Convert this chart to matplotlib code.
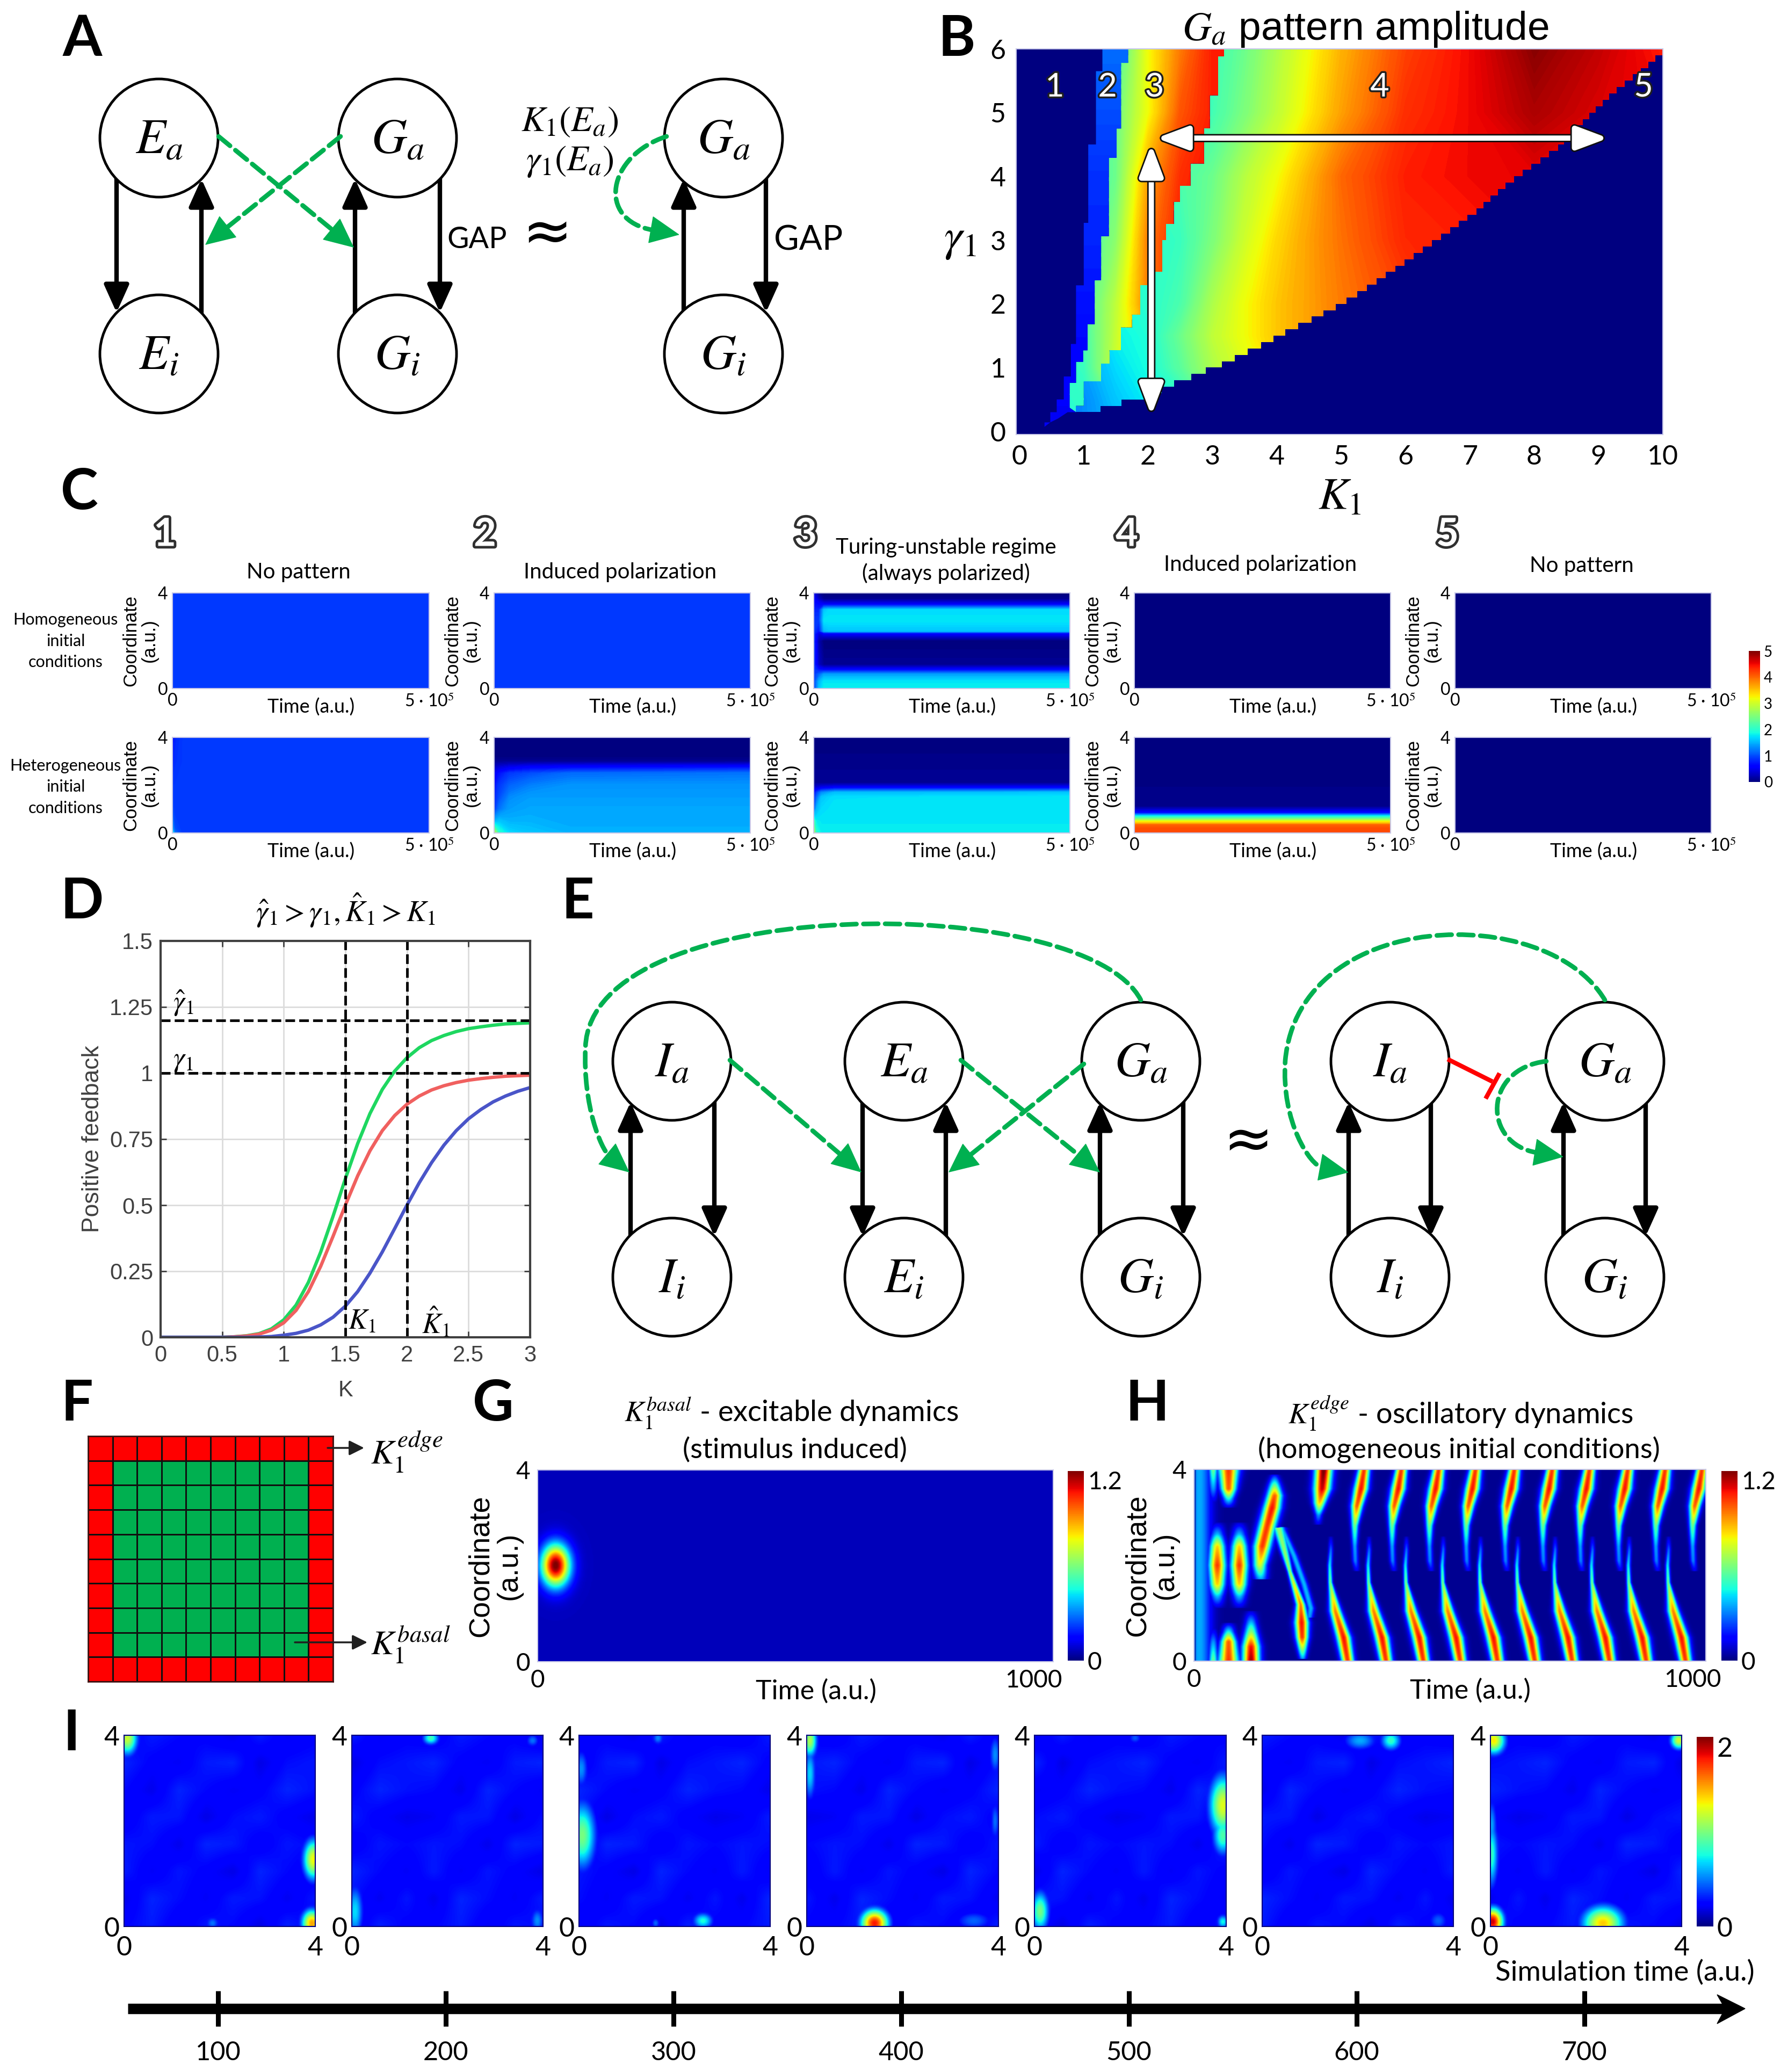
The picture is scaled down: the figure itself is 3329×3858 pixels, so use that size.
import numpy as np
import matplotlib
matplotlib.use("Agg")
import matplotlib.pyplot as plt
import matplotlib.patheffects as pe
from matplotlib.cm import ScalarMappable
from matplotlib.colors import ListedColormap, Normalize
from matplotlib.patches import Circle, FancyArrowPatch, Polygon
from matplotlib.path import Path
from matplotlib.transforms import ScaledTranslation

plt.rcParams['font.family'] = ['Lato', 'DejaVu Sans']
plt.rcParams['mathtext.fontset'] = 'stix'

W, H = 3330, 3858
SANS = ['Liberation Sans', 'DejaVu Sans']
GREEN = '#00b050'

# panel B, region boundaries (K per gamma band, top to bottom)
L12_K = [1.29, 1.19, 1.07, 1.0, .88, .8, .69, .58, .48, .39]
L12_G = [6, 5.65, 4.5, 3.27, 2.29, 1.37, .86, .5, .3, .14, .07]
R23_K = [1.69, 1.58, 1.51, 1.39, 1.27, 1.17, 1.06, .99, .88, .78]
R23_G = [6, 5.78, 4.75, 4.29, 3.06, 2.37, 1.68, 1.27, 1.09, .76, .37]
R34_K = [3.18, 3.09, 2.96, 2.87, 2.66, 2.5, 2.4, 2.28, 2.22, 2.0, 1.88, 1.75, 1.58, 1.4, 1.27, 1.0, .88]
R34_G = [6, 5.88, 5.27, 4.75, 4.2, 3.85, 3.6, 3.25, 3.0, 2.5, 2.29, 1.83, 1.63, 1.27, 1.06, .78, .4, .3]
R45_K = [.88, 1.2, 1.53, 2.0, 2.35, 2.6, 2.87, 3.2, 3.48, 3.8, 4.09, 4.5, 4.9, 5.3, 5.77, 6.2, 6.64, 7.1, 7.5, 7.9, 8.37, 8.8, 9.24, 9.6, 10]
R45_G = [.3, .38, .49, .58, .78, .87, .99, 1.12, 1.27, 1.42, 1.58, 1.78, 1.99, 2.23, 2.55, 2.85, 3.16, 3.5, 3.86, 4.16, 4.5, 4.95, 5.37, 5.65, 6]
TIP_K = [.48, .6, .75]
TIP_G = [.14, .2, .3]

R2_G = [0, 1, 2, 3, 4, 5, 6]
R2_V = [.5, .6, .7, .8, .85, 1.0, 1.15]

R3_K = [.5, 1, 1.5, 2, 2.5, 3, 3.5]
R3_G = [0, 1, 2, 3, 4, 5, 6]
R3_V = [[2.0, 2.0, 2.4, 3.0, 3.5, 4.0, 4.5],
        [2.0, 2.1, 3.0, 3.5, 4.0, 4.4, 4.5],
        [2.0, 2.2, 2.9, 3.9, 4.4, 4.5, 4.5],
        [2.0, 2.1, 2.6, 3.9, 4.4, 4.5, 4.5],
        [2.0, 2.1, 2.4, 3.7, 4.3, 4.5, 4.5],
        [2.0, 2.0, 2.4, 3.2, 4.1, 4.4, 4.5],
        [2.0, 2.0, 2.1, 3.2, 3.9, 4.4, 4.5]]

R4_K = [0, 1, 1.5, 2, 2.5, 3, 3.5, 4, 4.5, 5, 6, 7, 8, 9, 10]
R4_G = [0, .5, 1, 1.5, 2, 3, 4, 5, 6]
R4_V = [[1.0, 1.3, 1.5, 1.7, 1.9, 2.4, 2.9, 3.3, 3.6, 3.8, 4.2, 4.4, 4.5, 4.5, 4.5],
        [1.0, 1.3, 1.6, 1.8, 2.0, 2.5, 3.0, 3.4, 3.6, 3.8, 4.2, 4.4, 4.5, 4.5, 4.5],
        [1.0, 1.4, 1.7, 1.9, 2.3, 2.8, 3.1, 3.4, 3.7, 3.9, 4.2, 4.4, 4.5, 4.5, 4.5],
        [1.2, 1.5, 1.8, 1.95, 2.4, 2.9, 3.2, 3.5, 3.7, 3.9, 4.2, 4.4, 4.5, 4.5, 4.5],
        [1.5, 1.7, 1.9, 2.0, 2.2, 2.8, 3.2, 3.5, 3.7, 3.9, 4.2, 4.4, 4.5, 4.5, 4.5],
        [1.8, 2.0, 2.0, 2.0, 2.1, 2.5, 3.0, 3.4, 3.7, 3.95, 4.35, 4.4, 4.5, 4.5, 4.5],
        [2.0, 2.0, 2.0, 2.1, 2.2, 2.4, 2.85, 3.2, 3.6, 4.0, 4.4, 4.5, 4.55, 4.6, 4.6],
        [2.0, 2.0, 2.0, 2.1, 2.1, 2.15, 2.5, 2.9, 3.3, 3.7, 4.3, 4.5, 4.8, 4.6, 4.5],
        [2.0, 2.0, 2.0, 2.1, 2.1, 2.1, 2.4, 2.8, 3.2, 3.6, 4.2, 4.5, 4.95, 4.7, 4.4]]
B_TICKS_X = list(range(0, 11))
B_TICKS_Y = list(range(0, 7))
B_REGIONS = ['1', '2', '3', '4', '5']

# panel C, amplitude tables (time in 1e5 a.u., rows run from coordinate 0 to 4)
C_TITLES = ['No pattern', 'Induced polarization', 'Turing-unstable regime\n(always polarized)',
            'Induced polarization', 'No pattern']
C_UNIFORM = .9
C1_T = [0, .05, .2, 5]
C1_Y = [0, .2, 1, 2, 3, 4]
C1_V = [[2.0, 1.2, .9, .9], [1.4, 1.0, .9, .9], [1.0, .9, .9, .9],
        [.9, .9, .9, .9], [.75, .85, .9, .9], [.6, .8, .9, .9]]
C2_T = [0, .1, .3, .7, 1.5, 5]
C2_Y = [0, .5, 1, 1.5, 2, 2.5, 2.75, 3, 3.25, 4]
C2_V = [[3.0, 2.0, 1.7, 1.6, 1.5, 1.5], [1.5, 1.6, 1.5, 1.5, 1.45, 1.45],
        [.9, 1.2, 1.4, 1.45, 1.45, 1.45], [.8, 1.0, 1.3, 1.4, 1.4, 1.4],
        [.7, .9, 1.1, 1.25, 1.35, 1.35], [.5, .7, .9, 1.0, 1.15, 1.2],
        [.3, .4, .5, .6, .65, .7], [.1, .1, .1, .1, .1, .1],
        [0, 0, 0, 0, 0, 0], [0, 0, 0, 0, 0, 0]]
C3A_T = [0, .1, .2, .3, 5]
C3A_Y = [0, .3, .6, .8, 1, 2, 2.3, 2.4, 2.85, 3.3, 3.55, 3.75, 4]
C3A_V = [[.9, 1.6, 1.8, 1.8, 1.8], [.9, 1.5, 1.75, 1.75, 1.75], [.9, 1.1, 1.4, 1.4, 1.4],
         [.9, .7, .6, .6, .6], [.9, .3, .1, .1, .1], [.9, .2, 0, 0, 0], [.9, .4, .6, .6, .6],
         [.9, .7, 1.5, 1.6, 1.6], [.9, .9, 1.75, 1.75, 1.75], [.8, .8, 1.6, 1.7, 1.7],
         [.7, .6, .5, .5, .5], [.6, .3, .1, .1, .1], [.5, .1, 0, 0, 0]]
C3B_T = [0, .05, .15, .4, 5]
C3B_Y = [0, .5, 1, 1.5, 1.7, 1.9, 2.1, 4]
C3B_V = [[3.0, 2.0, 1.8, 1.8, 1.8], [2.2, 1.8, 1.75, 1.75, 1.75], [1.0, 1.5, 1.7, 1.75, 1.75],
         [.8, 1.1, 1.6, 1.72, 1.75], [.6, .9, 1.3, 1.55, 1.6], [.3, .4, .5, .6, .6],
         [.1, .1, .1, .1, .1], [0, 0, 0, 0, 0]]
C4_T = [0, 5]
C4_Y = [0, .2, .36, .41, .5, .6, .72, .87, 1.13, 4]
C4_V = [[4.15, 4.15], [4.15, 4.15], [4.0, 4.0], [3.6, 3.6], [3.2, 3.2], [2.5, 2.5],
        [1.8, 1.8], [.6, .6], [.05, .05], [0, 0]]

# panel D, feedback curves
D_K = [0, .5, .6, .7, .8, .9, 1.0, 1.1, 1.2, 1.3, 1.4, 1.5, 1.6, 1.7, 1.8, 1.9, 2.0,
       2.1, 2.2, 2.3, 2.4, 2.5, 2.6, 2.7, 2.8, 2.9, 3.0]
D_RED = [0, 0, .002, .005, .012, .027, .055, .102, .173, .269, .382, .5, .611, .706, .782, .839,
         .882, .913, .936, .952, .964, .973, .979, .984, .988, .990, .992]
D_GREEN = [0, 0, .002, .006, .014, .032, .066, .122, .208, .323, .458, .6, .733, .847, .938, 1.007,
           1.058, 1.096, 1.123, 1.142, 1.157, 1.168, 1.175, 1.181, 1.186, 1.188, 1.190]
D_BLUE = [0, 0, 0, 0, .001, .003, .008, .015, .027, .047, .076, .118, .173, .243, .323, .411,
          .5, .585, .661, .727, .782, .827, .862, .891, .913, .931, .945]

# panel G, hot spot: time, coordinate, amplitude, spread in time, spread in coordinate
G_SPOTS = [(34, 2.01, 1.15, 19, .3)]

# panel H, pulses: lists of coordinate, time, amplitude, half width per ridge
H_UPPER_TOPS = [332, 405, 478, 550, 626, 700, 773, 848, 921, 993]
H_LOWER_BOTTOMS = [300, 375, 448, 520, 593, 666, 739, 812, 884, 961]
UP_Y = [1.87, 2.09, 2.4, 2.83, 3.24, 3.6, 4]
UP_DT = [-14, -17, -18, -18, -14, -6, 0]
UP_A = [.08, .28, .32, .55, .95, 1.05, 1.0]
UP_W = [4, 4, 4, 5, 7.5, 9, 7.5]
LOW_Y = [0, .49, 1.04, 1.64, 2.0, 2.32, 2.6]
LOW_DT = [0, -8, -24, -34, -35, -33, -33]
LOW_A = [1.0, 1.05, .9, .55, .4, .25, .05]
LOW_W = [8, 9, 7.5, 3, 3, 3, 3]
H_EARLY = [
    ([0, 4], [10, 10], [.33, .33], [16, 16]),
    ([3.2, 3.4, 3.6, 4], [67, 67, 67, 67], [.05, .45, .95, 1.0], [8, 8, 10, 13]),
    ([3.3, 3.6, 4], [37, 37, 37], [.05, .3, .55], [6, 6, 6]),
    ([0, .4, .6, .8], [67, 67, 67, 67], [1.0, .95, .45, .05], [13, 10, 8, 8]),
    ([0, .4, .7], [37, 37, 37], [.55, .3, .05], [6, 6, 6]),
    ([1.1, 1.35, 1.6, 2.0, 2.4, 2.65, 2.9], [45] * 7, [.05, .35, .8, 1.0, .8, .35, .05], [9, 9, 10, 11, 10, 9, 9]),
    ([1.1, 1.35, 1.6, 2.0, 2.4, 2.65, 2.9], [88] * 7, [.05, .35, .8, 1.0, .8, .35, .05], [9, 9, 10, 11, 10, 9, 9]),
    ([0, .3, .6, .8, 1.05], [111] * 5, [1.15, 1.05, .6, .35, .05], [11, 11, 9, 8, 8]),
    ([1.7, 2.0, 2.4, 2.8, 3.2, 3.46, 3.7, 3.9], [130, 128, 133, 142, 152, 157, 157, 157],
     [.3, .7, 1.0, 1.0, 1.05, .95, .5, .12], [9, 9, 11, 11, 11, 10, 8, 6]),
    ([.04, .49, .8, 1.18, 1.87, 2.78], [212, 211, 210, 208, 187, 165], [.3, 1.0, 1.05, .9, .6, .6], [5, 8, 9, 6, 3.5, 8]),
    ([.9, 1.1, 1.6, 2.2, 2.8], [225, 228, 215, 195, 170], [.3, .35, .35, .35, .35], [5, 5, 5, 5, 5]),
    ([2.85, 3.05, 3.3, 3.6, 4], [242, 243, 245, 250, 253], [.08, .3, .8, 1.1, 1.2], [5, 5, 8, 11, 11]),
]

# panel I, background mottling and spots: x, y, amplitude, spread x, spread y
I_BACK = [[.25, .30, .21, .29, .26, .18, .31, .24],
          [.19, .32, .27, .21, .30, .28, .20, .29],
          [.30, .21, .29, .24, .18, .32, .26, .21],
          [.29, .27, .19, .32, .30, .22, .29, .26],
          [.21, .30, .29, .18, .27, .30, .23, .19],
          [.26, .19, .32, .26, .21, .24, .32, .28],
          [.32, .24, .21, .30, .32, .18, .27, .29],
          [.21, .30, .26, .24, .19, .30, .21, .24]]
I_SPOTS = [
    [(.05, 3.95, 1.2, .15, .25), (3.98, 1.39, 1.3, .15, .3), (3.95, .05, 1.5, .15, .2), (1.85, .05, .5, .1, .1)],
    [(1.65, 3.95, .9, .12, .1), (.05, .3, .7, .12, .4), (3.9, .1, .55, .1, .2), (3.8, 3.9, .5, .1, .1)],
    [(.05, 1.9, 1.0, .2, .5), (.03, 3.3, .55, .1, .3), (2.6, .1, .8, .15, .12), (1.6, .05, .5, .06, .08), (1.65, 3.95, .55, .08, .1)],
    [(.05, 3.9, 1.15, .1, .25), (.05, 3.2, .7, .08, .4), (1.41, .05, 1.8, .2, .2), (3.95, 3.6, .55, .08, .3), (3.95, 2.2, .5, .06, .3), (3.5, .1, .45, .3, .15)],
    [(3.95, 2.53, 1.25, .2, .45), (3.95, 1.9, .9, .15, .3), (.1, .3, 1.0, .13, .3), (3.95, .08, .8, .08, .1), (2.1, 3.95, .45, .1, .08)],
    [(2.7, 3.9, .85, .15, .15), (2.05, 3.9, .6, .25, .15), (3.7, .1, .45, .15, .15)],
    [(.05, 3.9, 1.35, .17, .2), (3.95, 3.9, 1.25, .12, .13), (0, 1.5, .85, .1, .5), (0, 2.1, .6, .08, .4), (.03, .08, 1.9, .15, .2), (2.35, .05, 1.4, .3, .25)],
]
TIME_TICKS = [100, 200, 300, 400, 500, 600, 700]

fig = plt.figure(figsize=(W / 100, H / 100), dpi=100)


def px_axes(left, top, right, bottom):
    return fig.add_axes([left / W, 1 - bottom / H, (right - left) / W, (bottom - top) / H])


def heat(ax, xs, ys, table, vmax):
    levels = np.linspace(0, vmax, 140)
    return ax.contourf(xs, ys, np.array(table, dtype=float), levels=levels, cmap='jet', extend='both')


def colorbar(left, top, right, bottom, vmax, ticks, labels, size):
    cax = px_axes(left, top, right, bottom)
    cb = fig.colorbar(ScalarMappable(Normalize(0, vmax), 'jet'), cax=cax)
    cb.outline.set_visible(False)
    cb.set_ticks(ticks, labels=labels)
    cax.tick_params(length=0, labelsize=size, pad=5)
    return cax


def stair(ks, gs):
    out = []
    for i, k in enumerate(ks):
        out += [(k, gs[i]), (k, gs[i + 1])]
    return out


def ridge_field(ts, ys, ridges):
    tt = np.array(ts)
    z = np.zeros((len(ys), len(tt)))
    for ry, rt, ra, rw in ridges:
        for i, y in enumerate(ys):
            a = np.interp(y, ry, ra, left=0, right=0)
            if a > 0:
                c = np.interp(y, ry, rt)
                w = np.interp(y, ry, rw)
                z[i] = np.maximum(z[i], a * np.exp(-(tt - c) ** 2 / (2 * w ** 2)))
    return z


def spot_field(xs, ys, spots):
    xx, yy = np.meshgrid(xs, ys)
    z = np.zeros_like(xx)
    for x0, y0, a, sx, sy in spots:
        z = np.maximum(z, a * np.exp(-(xx - x0) ** 2 / (2 * sx ** 2) - (yy - y0) ** 2 / (2 * sy ** 2)))
    return z


def thin_frame(ax, color='#c8c8e8', lw=1.5):
    for s in ax.spines.values():
        s.set_color(color)
        s.set_linewidth(lw)


def shift_label(label, dx_px):
    label.set_transform(label.get_transform() + ScaledTranslation(dx_px / 100, 0, fig.dpi_scale_trans))


# --- B ---
ax = px_axes(1892, 91, 3096, 809)
ax.set_facecolor(plt.get_cmap('jet')(0.0))
gam = np.arange(.3, 6.01, .1)
k45 = np.interp(gam, R45_G, R45_K)
lower = []
for i in range(len(gam) - 1):
    lower += [(k45[i + 1], gam[i]), (k45[i + 1], gam[i + 1])]
edge12 = stair(L12_K, L12_G) + list(zip(TIP_K, TIP_G))
edge23 = stair(R23_K, R23_G)
edge34 = stair(R34_K, R34_G)
regions = [(R3_K, R3_G, R3_V, edge23 + edge34[::-1]),
           (R4_K, R4_G, R4_V, edge34 + lower),
           ([0, 10], R2_G, [[v, v] for v in R2_V], edge12 + [(.88, .3)] + edge23[::-1])]
for xs, ys, table, verts in regions:
    cs = heat(ax, xs, ys, table, 5)
    clip = Polygon(verts, closed=True, transform=ax.transData, fill=False, edgecolor='none')
    ax.add_patch(clip)
    cs.set_clip_path(clip)
ax.set_xlim(-.05, 10)
ax.set_ylim(-.05, 6)
ax.set_xticks(B_TICKS_X)
ax.set_yticks(B_TICKS_Y)
ax.tick_params(length=0, labelsize=36, pad=14)
ax.set_xlabel('$K_1$', fontsize=60, labelpad=8)
ax.set_ylabel('$\\gamma_1$', fontsize=62, rotation=0, labelpad=44)
ax.yaxis.set_label_coords(-.087, .45)
ax.set_title('$G_a$ pattern amplitude', fontsize=54, family=SANS, pad=2, x=.54)
thin_frame(ax)
for label, kx in zip(B_REGIONS, [.55, 1.37, 2.1, 5.6, 9.7]):
    ax.text(kx, 5.4, label, color='white', fontsize=44, ha='center', va='center',
            path_effects=[pe.withStroke(linewidth=5, foreground='#202020')])
for (xa, ya), (xb, yb) in [((2.13, 4.6), (9.15, 4.6)), ((2.05, 4.5), (2.05, .25))]:
    ax.add_patch(FancyArrowPatch((xa, ya), (xb, yb), arrowstyle='<|-|>,head_length=.8,head_width=.3',
                                 mutation_scale=44, lw=7, color='white', shrinkA=0, shrinkB=0,
                                 path_effects=[pe.withStroke(linewidth=11, foreground='#101010')], zorder=6))

# --- C ---
c_cols = [(321, 799), (920, 1397), (1515, 1992), (2112, 2589), (2709, 3186)]
c_rows = [(1104, 1282), (1373, 1551)]
c_tables = [[None, (C1_T, C1_Y, C1_V)],
            [None, (C2_T, C2_Y, C2_V)],
            [(C3A_T, C3A_Y, C3A_V), (C3B_T, C3B_Y, C3B_V)],
            ['zero', (C4_T, C4_Y, C4_V)],
            ['zero', 'zero']]
for c, (left, right) in enumerate(c_cols):
    for r, (top, bottom) in enumerate(c_rows):
        ax = px_axes(left, top, right, bottom)
        tab = c_tables[c][r]
        if tab is None:
            ax.imshow([[C_UNIFORM]], extent=(0, 5, 0, 4), aspect='auto', cmap='jet', vmin=0, vmax=5)
        elif tab == 'zero':
            ax.imshow([[0]], extent=(0, 5, 0, 4), aspect='auto', cmap='jet', vmin=0, vmax=5)
        else:
            heat(ax, tab[0], tab[1], tab[2], 5)
        ax.set_xlim(0, 5)
        ax.set_ylim(0, 4)
        ax.set_xticks([0, 5])
        ax.set_xticklabels(['0', '5 · 10$^5$'])
        ax.set_yticks([0, 4])
        ax.tick_params(length=0, labelsize=23, pad=6)
        ax.set_xlabel('Time (a.u.)', fontsize=26)
        ax.xaxis.set_label_coords(.54, -.1)
        ax.set_ylabel('Coordinate\n(a.u.)', fontsize=25, family=SANS, linespacing=1.05)
        ax.yaxis.set_label_coords(-.055, .5)
        thin_frame(ax)
colorbar(3256, 1212, 3277, 1456, 5, [0, 1, 2, 3, 4, 5], ['0', '1', '2', '3', '4', '5'], 20)

# --- D ---
ax = px_axes(299, 1752, 987, 2490)
ax.plot(D_K, D_GREEN, color='#1ed760', lw=4.5)
ax.plot(D_K, D_RED, color='#f0605f', lw=4.5)
ax.plot(D_K, D_BLUE, color='#4a55c8', lw=4.5)
for v in [1.5, 2]:
    ax.axvline(v, color='black', ls='--', lw=3.5)
for v in [1.2, 1]:
    ax.axhline(v, color='black', ls='--', lw=3.5)
ax.set_xlim(0, 3)
ax.set_ylim(0, 1.5)
ax.set_xticks([0, .5, 1, 1.5, 2, 2.5, 3])
ax.set_xticklabels(['0', '0.5', '1', '1.5', '2', '2.5', '3'], family=SANS)
ax.set_yticks([0, .25, .5, .75, 1, 1.25, 1.5])
ax.set_yticklabels(['0', '0.25', '0.5', '0.75', '1', '1.25', '1.5'], family=SANS)
ax.grid(color='#dcdcdc', lw=2)
ax.set_axisbelow(True)
ax.tick_params(direction='in', length=8, width=2, labelsize=30, colors='#404040', pad=10, top=True, right=True)
for s in ax.spines.values():
    s.set_color('#404040')
    s.set_linewidth(3)
ax.set_xlabel('K', fontsize=30, family=SANS, color='#404040', labelpad=18)
ax.set_ylabel('Positive feedback', fontsize=32, family=SANS, color='#404040', labelpad=8)
ax.set_title('$\\hat{\\gamma}_1 > \\gamma_1, \\hat{K}_1 > K_1$', fontsize=40, pad=26)
ax.text(.1, 1.265, '$\\hat{\\gamma}_1$', fontsize=38, ha='left', va='center')
ax.text(.1, 1.045, '$\\gamma_1$', fontsize=38, ha='left', va='center')
ax.text(1.52, .06, '$K_1$', fontsize=38, ha='left', va='center')
ax.text(2.12, .06, '$\\hat{K}_1$', fontsize=38, ha='left', va='center')

# --- F ---
ax = px_axes(164, 2674, 620, 3131)
cells = np.ones((10, 10))
cells[1:-1, 1:-1] = 0
ax.pcolormesh(cells, cmap=ListedColormap([GREEN, '#ff0000']), edgecolors='#101010', linewidth=2)
ax.set_xticks([])
ax.set_yticks([])
thin_frame(ax, '#401010', 2)

# --- G ---
ax = px_axes(1001, 2737, 1961, 3094)
ts = np.linspace(0, 1000, 500)
ys = np.linspace(0, 4, 240)
ax.imshow(.065 + spot_field(ts, ys, G_SPOTS), extent=(0, 1000, 0, 4), origin='lower', aspect='auto',
          cmap='jet', vmin=0, vmax=1.2, interpolation='bilinear')
ax.set_xticks([0, 1000])
ax.set_yticks([0, 4])
ax.tick_params(length=0, labelsize=33, pad=10)
shift_label(ax.get_xticklabels()[1], -37)
ax.set_xlabel('Time (a.u.)', fontsize=36)
ax.xaxis.set_label_coords(.54, -.09)
ax.set_ylabel('Coordinate\n(a.u.)', fontsize=39, family=SANS, linespacing=1.05)
ax.yaxis.set_label_coords(-.03, .5)
thin_frame(ax)
cax = colorbar(1988, 2739, 2018, 3092, 1.2, [0, 1.2], ['0', '1.2'], 33)
cax.get_yticklabels()[1].set_va('top')

# --- H ---
ax = px_axes(2223, 2736, 3176, 3093)
ts = np.linspace(0, 1000, 700)
ys = np.linspace(0, 4, 260)
ridges = list(H_EARLY)
for top in H_UPPER_TOPS:
    ridges.append((UP_Y, [top + d for d in UP_DT], UP_A, UP_W))
for bot in H_LOWER_BOTTOMS:
    ridges.append((LOW_Y, [bot + d for d in LOW_DT], LOW_A, LOW_W))
ax.imshow(.02 + ridge_field(ts, ys, ridges), extent=(0, 1000, 0, 4), origin='lower', aspect='auto',
          cmap='jet', vmin=0, vmax=1.2, interpolation='bilinear')
ax.axvline(2, color='#0040c0', lw=2)
ax.set_xticks([0, 1000])
ax.set_yticks([0, 4])
ax.tick_params(length=0, labelsize=33, pad=10)
shift_label(ax.get_xticklabels()[1], -25)
ax.set_xlabel('Time (a.u.)', fontsize=36)
ax.xaxis.set_label_coords(.54, -.09)
ax.set_ylabel('Coordinate\n(a.u.)', fontsize=39, family=SANS, linespacing=1.05)
ax.yaxis.set_label_coords(-.03, .5)
thin_frame(ax)
cax = colorbar(3205, 2739, 3235, 3092, 1.2, [0, 1.2], ['0', '1.2'], 33)
cax.get_yticklabels()[1].set_va('top')

# --- I ---
i_cols = [(231, 587), (655, 1011), (1078, 1434), (1502, 1859), (1926, 2283), (2350, 2706), (2775, 3131)]
xs = np.linspace(0, 4, 100)
ys = np.linspace(0, 4, 100)
grid8 = np.linspace(0, 4, 8)
for n, (left, right) in enumerate(i_cols):
    ax = px_axes(left, 3231, right, 3587)
    tab = np.roll(I_BACK, n * 3, axis=1)
    back = np.array([np.interp(xs, grid8, row) for row in tab])
    back = np.array([np.interp(ys, grid8, col) for col in back.T]).T
    z = np.maximum(back, spot_field(xs, ys, I_SPOTS[n]))
    ax.imshow(z, extent=(0, 4, 0, 4), origin='lower', aspect='auto', cmap='jet', vmin=0, vmax=2,
              interpolation='bicubic')
    ax.set_xticks([0, 4])
    ax.set_yticks([0, 4])
    ax.tick_params(length=0, labelsize=36, pad=6)
    ax.tick_params(axis='x', pad=12)
    thin_frame(ax, '#000080')
cax = colorbar(3159, 3234, 3190, 3587, 2, [0, 2], ['0', '2'], 36)
cax.get_yticklabels()[1].set_va('top')

# time line under panel I
ax = px_axes(238, 3700, 3215, 3740)
ax.set_xlim(60.4, 762.5)
ax.patch.set_visible(False)
for s in ['top', 'left', 'right']:
    ax.spines[s].set_visible(False)
ax.spines['bottom'].set_linewidth(14)
ax.spines['bottom'].set_capstyle('butt')
ax.set_yticks([])
ax.set_xticks(TIME_TICKS)
ax.tick_params(axis='x', direction='inout', length=47, width=6.5, labelsize=35, pad=20)

# --- overlay in reference pixels: diagrams, panel letters, free text ---
ov = fig.add_axes([0, 0, 1, 1], zorder=10)
ov.set_xlim(0, W)
ov.set_ylim(H, 0)
ov.axis('off')


def note(x, y, s, size, **kw):
    kw.setdefault('ha', 'center')
    kw.setdefault('va', 'center')
    ov.text(x, y, s, fontsize=size, **kw)


def node(x, y, label):
    ov.add_patch(Circle((x, y), 110, facecolor='white', edgecolor='black', lw=3.5, zorder=3))
    ov.text(x, y + 3, label, fontsize=66, ha='center', va='center', zorder=4)


def arrow(xa, ya, xb, yb):
    ov.add_patch(FancyArrowPatch((xa, ya), (xb, yb), arrowstyle='-|>,head_length=.6,head_width=.27',
                                 mutation_scale=52, lw=6, color='black', shrinkA=0, shrinkB=0, zorder=2))


def thin_arrow(xa, ya, xb, yb):
    ov.add_patch(FancyArrowPatch((xa, ya), (xb, yb), arrowstyle='-|>,head_length=.6,head_width=.3',
                                 mutation_scale=28, lw=2.5, color='#202020', shrinkA=0, shrinkB=0, zorder=4))


def green_arrow(verts):
    verts = [np.array(v, dtype=float) for v in verts]
    tip = verts[-1]
    back = tip - verts[-2]
    base = tip - back / np.hypot(*back) * 50
    if len(verts) == 2:
        path = Path([verts[0], base])
    else:
        path = Path(verts[:-1] + [base], [Path.MOVETO] + [Path.CURVE4] * (len(verts) - 1))
    ov.add_patch(FancyArrowPatch(path=path, arrowstyle='-', lw=6.2, color=GREEN,
                                 linestyle=(0, (3.2, 1.5)), zorder=5))
    ov.add_patch(FancyArrowPatch(tuple(base), tuple(tip), arrowstyle='-|>,head_length=.75,head_width=.35',
                                 mutation_scale=50, lw=1, color=GREEN, shrinkA=0, shrinkB=0, zorder=5))


# A
for x, y, lab in [(296, 257, '$E_a$'), (740, 257, '$G_a$'), (296, 659, '$E_i$'), (740, 659, '$G_i$'),
                  (1347, 257, '$G_a$'), (1347, 659, '$G_i$')]:
    node(x, y, lab)
for x in [217, 819, 1426]:
    arrow(x, 333, x, 582)
for x in [375, 661, 1273]:
    arrow(x, 582, x, 333)
green_arrow([(634, 254), (382, 456)])
green_arrow([(407, 254), (659, 461)])
green_arrow([(1241, 254), (1130, 290), (1110, 410), (1265, 437)])
note(888, 447, 'GAP', 40)
note(1505, 447, 'GAP', 46)
note(1019, 437, '≈', 80, family=['DejaVu Sans'])
note(1061, 227, '$K_1(E_a)$', 48)
note(1061, 301, '$\\gamma_1(E_a)$', 48)

# E
for x, lab in [(1251, 'I'), (1683, 'E'), (2124, 'G'), (2588, 'I'), (2988, 'G')]:
    node(x, 1976, '$%s_a$' % lab)
    node(x, 2378, '$%s_i$' % lab)
for x in [1330, 1606, 2203, 2664, 3064]:
    arrow(x, 2052, x, 2302)
for x in [1174, 1761, 2048, 2511, 2911]:
    arrow(x, 2302, x, 2052)
green_arrow([(1359, 1974), (1604, 2183)])
green_arrow([(1789, 1974), (2048, 2183)])
green_arrow([(2018, 1981), (1766, 2183)])
green_arrow([(2124, 1862), (2020, 1660), (1100, 1660), (1090, 1950), (1085, 2060), (1120, 2140), (1172, 2183)])
green_arrow([(2988, 1862), (2880, 1680), (2420, 1690), (2393, 1974), (2385, 2090), (2440, 2170), (2511, 2183)])
green_arrow([(2879, 1976), (2760, 1990), (2760, 2130), (2911, 2154)])
ov.plot([2699, 2775], [1974, 2012], color='#ff0000', lw=6, zorder=5)
ov.plot([2790, 2768], [2002, 2042], color='#ff0000', lw=6, zorder=5)
note(2324, 2127, '≈', 80, family=['DejaVu Sans'])

# F annotations
thin_arrow(610, 2696, 678, 2696)
thin_arrow(549, 3058, 684, 3058)
note(690, 2704, '$K_1^{edge}$', 46, ha='left')
note(690, 3063, '$K_1^{basal}$', 46, ha='left')

# G and H titles
note(1473, 2632, '$K_1^{basal}$ - excitable dynamics', 39)
note(1480, 2700, '(stimulus induced)', 38)
note(2719, 2632, '$K_1^{edge}$ - oscillatory dynamics', 39)
note(2716, 2700, '(homogeneous initial conditions)', 38)

# C free text
for (x, lab) in zip([307, 903, 1500, 2098, 2695], ['1', '2', '3', '4', '5']):
    note(x, 996, lab, 52, color='white', weight='bold',
         path_effects=[pe.withStroke(linewidth=7, foreground='#303030')])
for (x, y), title in zip([(556, 1066), (1155, 1066), (1761, 1044), (2347, 1052), (2945, 1054)], C_TITLES):
    note(x, y, title, 29, linespacing=1.35)
note(122, 1194, 'Homogeneous\ninitial\nconditions', 22, linespacing=1.5)
note(122, 1465, 'Heterogeneous\ninitial\nconditions', 22, linespacing=1.5)

note(3025, 3673, 'Simulation time (a.u.)', 38)
ov.add_patch(Polygon([(3197, 3714), (3249, 3740), (3197, 3768), (3212, 3740)], closed=True, color='black'))

for (x, y), letter in zip([(153, 74), (1781, 74), (148, 918), (153, 1680), (1076, 1680), (143, 2615), (918, 2615),
                           (2136, 2615), (133, 3229)], 'ABCDEFGHI'):
    note(x, y, letter, 76, weight='bold')

fig.savefig('out.png', dpi=100)
